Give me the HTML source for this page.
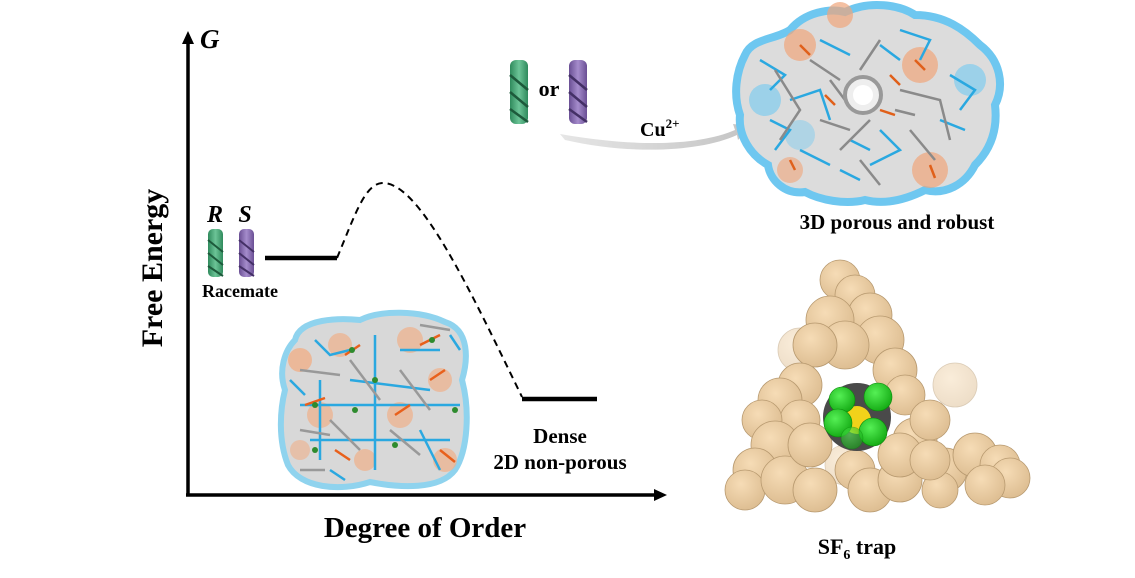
<!DOCTYPE html>
<html><head><meta charset="utf-8"><style>
html,body{margin:0;padding:0;background:#fff;}
svg{display:block;}
text{font-family:"Liberation Serif",serif;font-weight:bold;fill:#000;}
</style></head><body>
<svg width="1135" height="578" viewBox="0 0 1135 578" xmlns="http://www.w3.org/2000/svg">
<defs>
<linearGradient id="hg" x1="0" x2="1"><stop offset="0" stop-color="#2f8a5c"/><stop offset="0.5" stop-color="#6cc497"/><stop offset="1" stop-color="#2f8a5c"/></linearGradient>
<linearGradient id="hp" x1="0" x2="1"><stop offset="0" stop-color="#6a4f94"/><stop offset="0.5" stop-color="#a58ccc"/><stop offset="1" stop-color="#6a4f94"/></linearGradient>
<linearGradient id="arr" x1="0" x2="1"><stop offset="0" stop-color="#e6e6e6"/><stop offset="1" stop-color="#c4c4c4"/></linearGradient>
<radialGradient id="tan" cx="0.4" cy="0.35" r="0.7"><stop offset="0" stop-color="#f6dcb6"/><stop offset="1" stop-color="#dcbc90"/></radialGradient>
<radialGradient id="grn" cx="0.4" cy="0.35" r="0.7"><stop offset="0" stop-color="#55f055"/><stop offset="1" stop-color="#12a812"/></radialGradient>
</defs>

<!-- axes -->
<line x1="188" y1="40" x2="188" y2="495" stroke="#000" stroke-width="3.5"/>
<polygon points="188,31 182,44 194,44" fill="#000"/>
<line x1="186" y1="495" x2="658" y2="495" stroke="#000" stroke-width="3.5"/>
<polygon points="667,495 654,489 654,501" fill="#000"/>
<text x="200" y="48" font-size="27" font-style="italic">G</text>
<text transform="translate(162,268) rotate(-90)" font-size="30" text-anchor="middle">Free Energy</text>
<text x="425" y="537" font-size="29" text-anchor="middle">Degree of Order</text>

<!-- energy levels -->
<line x1="265" y1="258" x2="337" y2="258" stroke="#000" stroke-width="4.5"/>
<path d="M337,258 C355,215 365,183 383,183 C420,183 470,290 522,397" fill="none" stroke="#000" stroke-width="2" stroke-dasharray="7,5"/>
<line x1="522" y1="399" x2="597" y2="399" stroke="#000" stroke-width="4.5"/>
<text x="560" y="443" font-size="21" text-anchor="middle">Dense</text>
<text x="560" y="469" font-size="21" text-anchor="middle">2D non-porous</text>

<!-- R S helices -->
<text x="215" y="222" font-size="24" font-style="italic" font-weight="normal" text-anchor="middle">R</text>
<text x="245" y="222" font-size="24" font-style="italic" font-weight="normal" text-anchor="middle">S</text>
<rect x="208" y="229" width="15" height="48" rx="5" fill="url(#hg)"/>
<path d="M208,240 L223,252 M208,253 L223,265 M208,266 L223,276" stroke="#1d5a3b" stroke-width="2"/>
<rect x="239" y="229" width="15" height="48" rx="5" fill="url(#hp)"/>
<path d="M239,240 L254,252 M239,253 L254,265 M239,266 L254,276" stroke="#443066" stroke-width="2"/>
<text x="240" y="297" font-size="18" text-anchor="middle">Racemate</text>

<!-- or helices -->
<rect x="510" y="60" width="18" height="64" rx="6" fill="url(#hg)"/>
<path d="M510,75 L528,90 M510,92 L528,107 M510,109 L528,122" stroke="#1d5a3b" stroke-width="2.5"/>
<text x="549" y="96" font-size="22" text-anchor="middle">or</text>
<rect x="569" y="60" width="18" height="64" rx="6" fill="url(#hp)"/>
<path d="M569,75 L587,90 M569,92 L587,107 M569,109 L587,122" stroke="#443066" stroke-width="2.5"/>

<!-- Cu arrow -->
<path d="M560,134 C640,148 700,145 735,130 L733,124 L750,126 L738,140 L737,135 C700,152 630,155 565,140 Z" fill="url(#arr)"/>
<text x="640" y="136" font-size="20">Cu<tspan font-size="13" dy="-8">2+</tspan></text>

<!-- 2D blob -->
<g>
<path d="M295,340 C300,318 340,318 360,320 C380,310 420,310 445,322 C470,330 468,360 462,380 C470,410 468,450 455,470 C440,490 400,488 370,482 C340,492 300,488 288,465 C278,440 280,410 285,390 C278,370 285,350 295,340 Z" fill="#d8d8d8" stroke="#8fd3ee" stroke-width="6"/>
<circle cx="300" cy="360" r="12" fill="#f0b08a" opacity="0.8"/>
<circle cx="340" cy="345" r="12" fill="#f0b08a" opacity="0.7"/>
<circle cx="410" cy="340" r="13" fill="#f0b08a" opacity="0.7"/>
<circle cx="440" cy="380" r="12" fill="#f0b08a" opacity="0.7"/>
<circle cx="320" cy="415" r="13" fill="#f0b08a" opacity="0.7"/>
<circle cx="400" cy="415" r="13" fill="#f0b08a" opacity="0.7"/>
<circle cx="445" cy="460" r="12" fill="#f0b08a" opacity="0.7"/>
<circle cx="365" cy="460" r="11" fill="#f0b08a" opacity="0.7"/>
<circle cx="300" cy="450" r="10" fill="#f0b08a" opacity="0.6"/>
<g stroke="#2aa8e0" stroke-width="2.5" fill="none">
<path d="M315,340 L330,355 L350,350 M375,335 L375,470 M320,380 L320,460 M300,405 L460,405 M310,440 L450,440 M400,350 L440,350 M350,380 L430,390 M420,430 L440,470 M290,380 L305,395 M450,335 L460,350 M330,470 L345,480"/>
</g>
<g stroke="#999" stroke-width="2.5" fill="none">
<path d="M300,370 L340,375 M350,360 L380,400 M400,370 L430,410 M330,420 L360,450 M390,430 L420,455 M300,430 L330,435 M420,325 L450,330 M300,470 L325,470"/>
</g>
<g stroke="#e8601c" stroke-width="2.5">
<path d="M345,355 L360,345 M420,345 L440,335 M305,405 L325,398 M395,415 L410,405 M430,380 L445,370 M335,450 L350,460 M440,450 L455,462"/>
</g>
<g fill="#2e8b2e"><circle cx="352" cy="350" r="3"/><circle cx="432" cy="340" r="3"/><circle cx="315" cy="405" r="3"/><circle cx="375" cy="380" r="3"/><circle cx="455" cy="410" r="3"/><circle cx="355" cy="410" r="3"/><circle cx="315" cy="450" r="3"/><circle cx="395" cy="445" r="3"/></g>
</g>

<!-- 3D blob -->
<g>
<path d="M745,55 C752,38 775,40 790,30 C805,12 830,8 845,12 C870,0 900,5 915,15 C945,15 965,30 980,45 C1000,60 1005,85 995,105 C998,130 990,150 975,165 C965,185 945,195 925,190 C905,200 885,205 865,200 C845,205 820,200 805,192 C785,195 770,180 768,165 C750,155 738,135 740,115 C733,95 736,72 745,55 Z" fill="#dcdcdc" stroke="#6ec7f0" stroke-width="8"/>
<circle cx="800" cy="45" r="16" fill="#f0a57a" opacity="0.7"/>
<circle cx="840" cy="15" r="13" fill="#f0a57a" opacity="0.7"/>
<circle cx="920" cy="65" r="18" fill="#f0a57a" opacity="0.7"/>
<circle cx="930" cy="170" r="18" fill="#f0a57a" opacity="0.7"/>
<circle cx="790" cy="170" r="13" fill="#f0a57a" opacity="0.6"/>
<circle cx="765" cy="100" r="16" fill="#5cc6f5" opacity="0.5"/>
<circle cx="970" cy="80" r="16" fill="#5cc6f5" opacity="0.5"/>
<circle cx="800" cy="135" r="15" fill="#5cc6f5" opacity="0.35"/>
<g stroke="#2aa8e0" stroke-width="2.5" fill="none">
<path d="M760,60 L785,75 L770,90 M790,100 L820,90 L830,120 M900,30 L930,40 L920,60 M950,75 L975,90 L960,110 M880,130 L900,150 L870,165 M800,150 L830,165 M820,40 L850,55 M840,170 L860,180 M770,120 L790,130 L775,150 M940,120 L965,130 M880,45 L900,60 M850,140 L870,150"/>
</g>
<g stroke="#8a8a8a" stroke-width="2.5" fill="none">
<path d="M775,70 L800,110 L780,140 M810,60 L840,80 M880,40 L860,70 M900,90 L940,100 L950,140 M870,120 L840,150 M910,130 L935,160 M820,120 L850,130 M830,80 L845,100 M895,110 L915,115 M860,160 L880,185"/>
</g>
<g stroke="#e0601a" stroke-width="2.5"><path d="M800,45 L810,55 M915,60 L925,70 M930,165 L935,178 M790,160 L795,170 M880,110 L895,115 M825,95 L835,105 M890,75 L900,85"/></g>
<circle cx="863" cy="95" r="18" fill="#eee" stroke="#999" stroke-width="4"/>
<circle cx="863" cy="95" r="10" fill="#fff"/>
</g>
<text x="897" y="229" font-size="21" text-anchor="middle">3D porous and robust</text>

<!-- SF6 trap -->
<g stroke="#b89a70" stroke-width="0.8" fill="url(#tan)">
<circle cx="800" cy="350" r="22" opacity="0.5"/>
<circle cx="955" cy="385" r="22" opacity="0.5"/>
<circle cx="845" cy="465" r="20" opacity="0.5"/>
<!-- top arm -->
<circle cx="840" cy="280" r="20"/><circle cx="855" cy="295" r="20"/><circle cx="870" cy="315" r="22"/>
<circle cx="830" cy="320" r="24"/><circle cx="880" cy="340" r="24"/><circle cx="845" cy="345" r="24"/>
<circle cx="815" cy="345" r="22"/><circle cx="895" cy="370" r="22"/><circle cx="905" cy="395" r="20"/>
<!-- left arm -->
<circle cx="800" cy="385" r="22"/><circle cx="780" cy="400" r="22"/><circle cx="800" cy="420" r="20"/>
<circle cx="762" cy="420" r="20"/><circle cx="775" cy="445" r="24"/><circle cx="755" cy="470" r="22"/>
<circle cx="745" cy="490" r="20"/><circle cx="785" cy="480" r="24"/><circle cx="810" cy="445" r="22"/>
<circle cx="815" cy="490" r="22"/>
<!-- bottom -->
<circle cx="855" cy="470" r="20"/><circle cx="870" cy="490" r="22"/><circle cx="900" cy="480" r="22"/>
<!-- right arm -->
<circle cx="915" cy="440" r="22"/><circle cx="930" cy="420" r="20"/><circle cx="900" cy="455" r="22"/>
<circle cx="945" cy="470" r="22"/><circle cx="975" cy="455" r="22"/><circle cx="1000" cy="465" r="20"/>
<circle cx="1010" cy="478" r="20"/><circle cx="985" cy="485" r="20"/><circle cx="940" cy="490" r="18"/>
<circle cx="930" cy="460" r="20"/>
</g>
<circle cx="857" cy="417" r="34" fill="#4a4a4a"/>
<circle cx="857" cy="420" r="14" fill="#f2d21a"/>
<g fill="url(#grn)" stroke="#0a8a0a" stroke-width="0.6">
<circle cx="842" cy="400" r="13"/><circle cx="878" cy="397" r="14"/><circle cx="838" cy="423" r="14"/>
<circle cx="873" cy="432" r="14"/><circle cx="852" cy="438" r="11" opacity="0.6"/>
</g>
<text x="857" y="554" font-size="22" text-anchor="middle">SF<tspan font-size="14" dy="5">6</tspan><tspan dy="-5"> trap</tspan></text>
</svg>
</body></html>
